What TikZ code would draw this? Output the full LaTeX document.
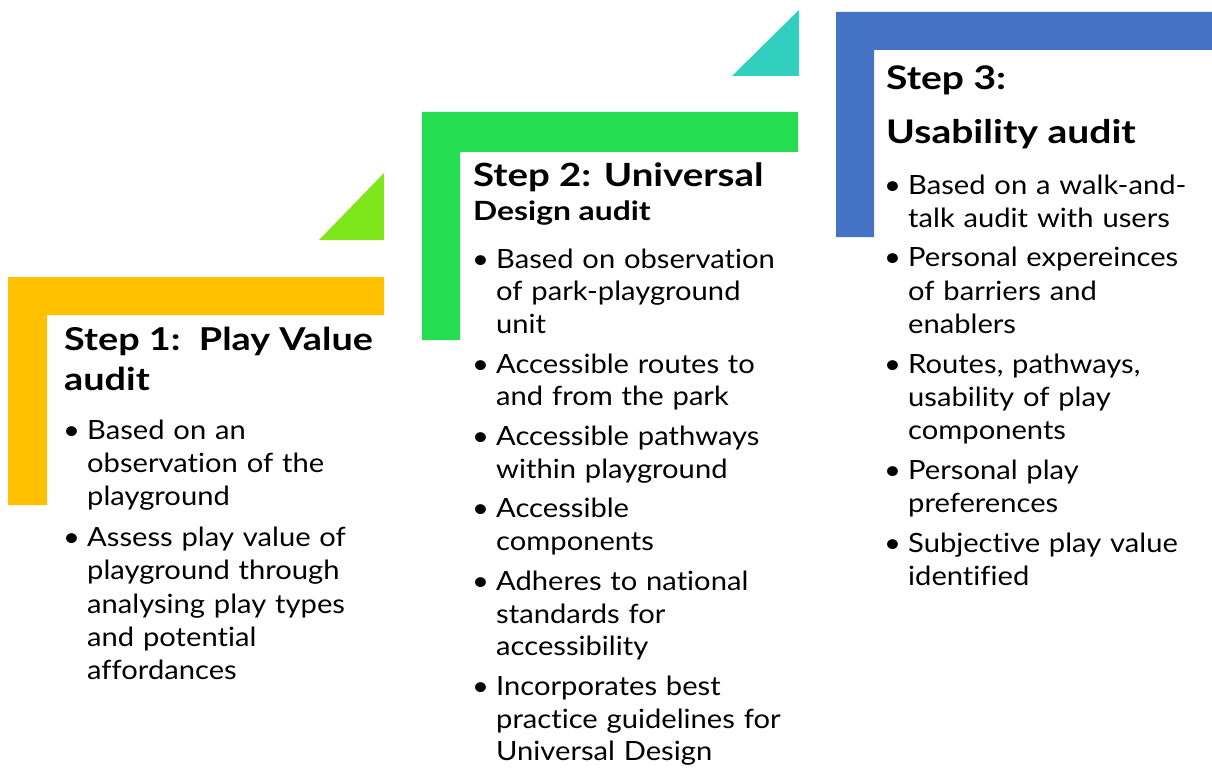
\documentclass[tikz,border=0pt]{standalone}
\usepackage{fontspec}
\setmainfont{Lato}[FakeStretch=1.1, Ligatures=NoCommon]
\newfontfamily\headfont{Lato}[FakeStretch=1.2]
\usepackage{xcolor}
\usetikzlibrary{positioning}

\definecolor{stepyellow}{HTML}{FFC000}
\definecolor{steplime}{HTML}{80E61C}
\definecolor{stepgreen}{HTML}{24DD50}
\definecolor{stepteal}{HTML}{30CFBE}
\definecolor{stepblue}{HTML}{4472C4}

% one bullet point, continuation lines hang under the text
\newcommand{\stepitem}[1]{\noindent\hangindent=24pt\hangafter=1\makebox[24pt][l]{\textbullet}#1\par}

\begin{document}
\begin{tikzpicture}[x=1pt, y=-1pt,
	steptitle/.style={anchor=base west, inner sep=0pt, align=left, font=\headfont\bfseries\fontsize{31.5}{40}\selectfont},
	stepbody/.style={anchor=base west, inner sep=0pt, text width=340pt, font=\fontsize{26.5}{32.7}\selectfont},
	]
	\useasboundingbox (0,0) rectangle (1212,770);

	% the three corner bars and the small triangles between them
	\fill[stepyellow] (8,277) -- (384,277) -- (384,315) -- (47,315) -- (47,505) -- (8,505) -- cycle;
	\fill[steplime] (319,240) -- (384,240) -- (384,173) -- cycle;
	\fill[stepgreen] (422,112) -- (798,112) -- (798,152) -- (460,152) -- (460,340) -- (422,340) -- cycle;
	\fill[stepteal] (732,76) -- (799,76) -- (799,10) -- cycle;
	\fill[stepblue] (836,12) -- (1212,12) -- (1212,50) -- (874,50) -- (874,237) -- (836,237) -- cycle;

	% step 1
	\node[steptitle] (title1) at (64,390) {Step 1:\ \ Play Value\\audit};
	\node[stepbody, font=\fontsize{26.5}{33.2}\selectfont] (body1) at (63,439) {\setlength{\parskip}{8pt}\raggedright
		\stepitem{Based on an\newline observation of the\newline playground}
		\stepitem{Assess play value of\newline playground through\newline analysing play types\newline and potential\newline affordances}};

	% step 2
	\node[steptitle, font=\headfont\bfseries\fontsize{32}{40}\selectfont] (title2) at (473,186) {Step 2: Universal};
	\node[steptitle, font=\headfont\bfseries\fontsize{26.5}{36}\selectfont] (title2b) at (473,220) {Design audit};
	\node[stepbody] (body2) at (472,268) {\setlength{\parskip}{7pt}\raggedright
		\stepitem{Based on observation\newline of park-playground\newline unit}
		\stepitem{Accessible routes to\newline and from the park}
		\stepitem{Accessible pathways\newline within playground}
		\stepitem{Accessible\newline components}
		\stepitem{Adheres to national\newline standards for\newline accessibility}
		\stepitem{Incorporates best\newline practice guidelines for\newline Universal Design}};

	% step 3
	\node[steptitle, font=\headfont\bfseries\fontsize{32.5}{54}\selectfont] (title3) at (886,144) {Step 3:\\Usability audit};
	\node[stepbody, font=\fontsize{26.5}{33}\selectfont] (body3) at (884,194) {\setlength{\parskip}{7pt}\raggedright
		\stepitem{Based on a walk-and-\newline talk audit with users}
		\stepitem{Personal expereinces\newline of barriers and\newline enablers}
		\stepitem{Routes, pathways,\newline usability of play\newline components}
		\stepitem{Personal play\newline preferences}
		\stepitem{Subjective play value\newline identified}};
\end{tikzpicture}
\end{document}
